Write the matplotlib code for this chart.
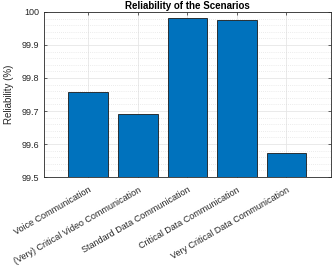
import matplotlib
matplotlib.use("Agg")
import matplotlib.pyplot as plt
import numpy as np
from matplotlib.ticker import MultipleLocator

# --- Data ---
SCENARIOS = [
    "Voice Communication",
    "(Very) Critical Video Communication",
    "Standard Data Communication",
    "Critical Data Communication",
    "Very Critical Data Communication",
]
RELIABILITY = [99.758, 99.690, 99.981, 99.975, 99.573]
Y_TICKS = [99.5, 99.6, 99.7, 99.8, 99.9, 100]
Y_TICK_LABELS = ["99.5", "99.6", "99.7", "99.8", "99.9", "100"]

plt.rcParams["font.family"] = ["Liberation Sans", "DejaVu Sans"]

fig = plt.figure(figsize=(3.32, 2.70), dpi=100)
ax = fig.add_axes([0.1316, 0.3444, 0.8654, 0.6112])

x = np.arange(1, len(SCENARIOS) + 1)
ax.bar(x, RELIABILITY, width=0.8, bottom=0, color="#0072BD",
       edgecolor="#1a1a1a", linewidth=0.6, zorder=3)

ax.set_xlim(0.1, 5.9)
ax.set_ylim(99.5, 100)
ax.set_yticks(Y_TICKS)
ax.set_yticklabels(Y_TICK_LABELS)
ax.yaxis.set_minor_locator(MultipleLocator(0.02))
ax.set_xticks(x)
ax.set_xticklabels(SCENARIOS, rotation=30, ha="right", rotation_mode="anchor")

# matlab-ish grid
ax.grid(True, which="major", color="#e6e6e6", linewidth=0.6, zorder=0)
ax.grid(True, which="minor", axis="y", color="#d9d9d9", linestyle=(0, (1, 2)),
        linewidth=0.5, zorder=0)

ax.tick_params(which="both", direction="in", top=True, right=True,
               labelsize=6.5, colors="#262626", length=2.5, width=0.5)
ax.tick_params(axis="x", pad=6)
ax.tick_params(which="minor", length=0)
for s in ax.spines.values():
    s.set_color("#262626")
    s.set_linewidth(0.6)

ax.set_ylabel("Reliability (%)", fontsize=7, color="#262626", labelpad=5)
ax.set_title("Reliability of the Scenarios", fontsize=7, fontweight="bold",
             pad=2)

fig.savefig("out.png", dpi=100)
